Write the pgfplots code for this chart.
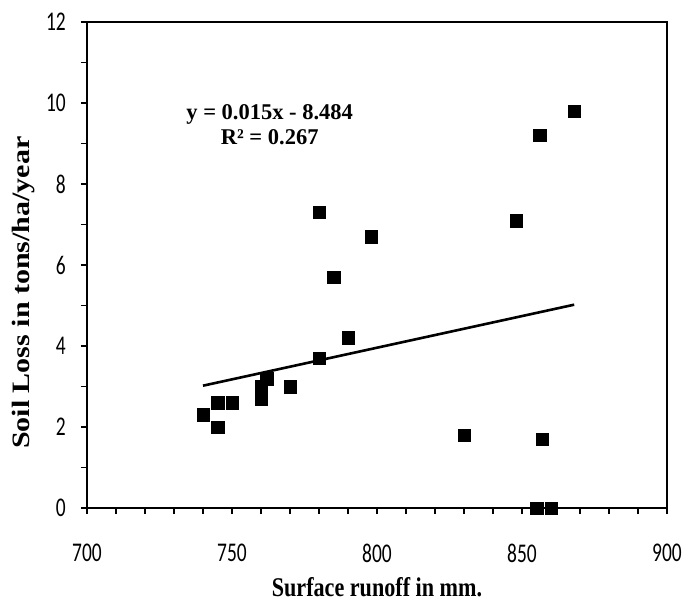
\documentclass[border=0pt]{standalone}
\usepackage{fontspec}
\setmainfont{Liberation Serif}
\newfontfamily\tickfont{Carlito}[FakeStretch=0.72]
\newfontfamily\xlabfont{Liberation Serif}[FakeStretch=0.82]
\newfontfamily\ylabfont{Liberation Serif}[FakeStretch=1.2]
\usepackage{pgfplots}
\pgfplotsset{compat=1.18}

\begin{document}
\begin{tikzpicture}
\begin{axis}[
  scale only axis, width=580bp, height=486bp,
  xmin=700, xmax=900, ymin=0, ymax=12,
  xtick={700,750,...,900}, ytick={0,2,...,12},
  minor x tick num=4, minor y tick num=1,
  xtick pos=bottom, ytick pos=left,
  tick align=outside, major tick length=6bp, minor tick length=6bp,
  axis line style={line width=1.9bp}, tick style={line width=1.5bp, black},
  /pgf/number format/assume math mode=true,
  /pgf/number format/1000 sep={},
  ticklabel style={font=\tickfont\fontsize{27bp}{30bp}\selectfont},
  yticklabel style={anchor=east, inner sep=0pt, xshift=-15bp},
  xticklabel style={anchor=center, inner sep=0pt, yshift=-39bp},
  xlabel={Surface runoff in mm.},
  ylabel={Soil Loss in tons/ha/year},
  xlabel style={font=\xlabfont\bfseries\fontsize{27bp}{30bp}\selectfont,
    at={(axis description cs:0.5,-0.1831)}, anchor=base},
  ylabel style={font=\ylabfont\bfseries\fontsize{25bp}{30bp}\selectfont,
    at={(axis description cs:-0.0983,0.443)}, anchor=base, rotate=0},
]
\coordinate (sw) at (rel axis cs:0,0);
\coordinate (ne) at (rel axis cs:1,1);
% observations
\addplot[only marks, mark=square*, mark size=6.3bp, color=black] coordinates {
  (740,2.3) (745,2.6) (745,2.0) (750,2.6) (760,2.7) (760,3.0) (762,3.2)
  (770,3.0) (780,3.7) (790,4.2) (780,7.3) (785,5.7) (798,6.7)
  (830,1.8) (848,7.1) (856,9.2) (868,9.8) (857,1.7) (855,0) (860,0)};
% linear trend line
\addplot[no marks, black, line width=2.6bp] coordinates {(740,3.02) (868,5.02)};
\node[font=\bfseries\fontsize{22.5bp}{25bp}\selectfont, align=center]
  at (axis cs:763,9.47) {y = 0.015x - 8.484\\R² = 0.267};
\end{axis}
\pgfresetboundingbox
\path[use as bounding box] ([shift={(-87bp,-95bp)}]sw) rectangle ([shift={(18bp,22bp)}]ne);
\end{tikzpicture}
\end{document}
